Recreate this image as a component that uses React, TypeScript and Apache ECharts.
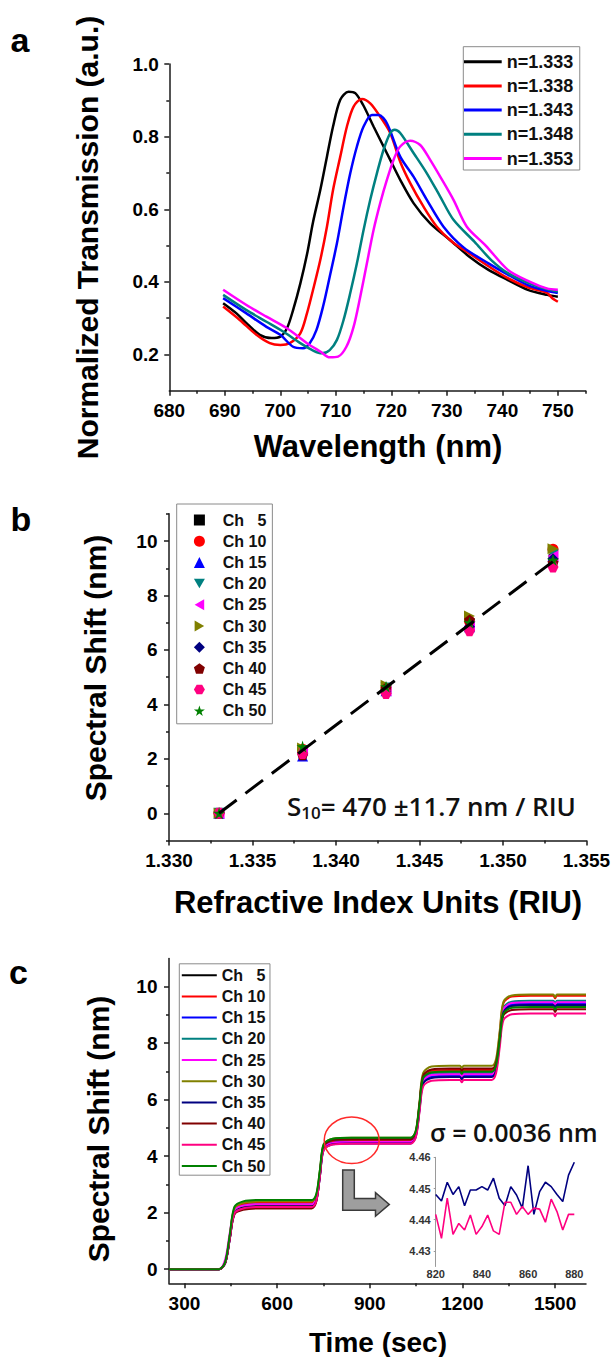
import { useEffect, useRef } from "react";
import * as echarts from "echarts";

// ---------------- Panel a : transmission spectra ----------------
const curveNames = ["n=1.333", "n=1.338", "n=1.343", "n=1.348", "n=1.353"];
const spec1333 = [[689.7,0.341],[692.1,0.313],[693.9,0.286],[696.3,0.254],[698.4,0.245],[700,0.249],[701.2,0.272],[702.3,0.322],[703.6,0.395],[704.8,0.475],[705.9,0.565],[707.2,0.653],[708.4,0.745],[709.5,0.828],[710.8,0.902],[712.3,0.924],[713.5,0.92],[714.9,0.888],[716.8,0.828],[718.6,0.773],[719.8,0.736],[721.6,0.681],[724,0.617],[727,0.561],[730.5,0.516],[734,0.47],[737.5,0.433],[741,0.405],[744.6,0.378],[748.1,0.364],[750,0.359]];
const spec1338 = [[689.7,0.332],[692.7,0.295],[695.7,0.254],[698.1,0.231],[700,0.226],[701.7,0.231],[703.6,0.258],[704.8,0.313],[705.9,0.378],[707.2,0.46],[708.4,0.552],[709.5,0.653],[710.8,0.745],[712,0.828],[713.2,0.883],[714.7,0.904],[716.2,0.892],[718,0.855],[719.8,0.81],[721.6,0.731],[723.4,0.672],[725.8,0.607],[728.2,0.552],[731,0.51],[734,0.479],[737.5,0.443],[741,0.41],[744.6,0.385],[748,0.37],[749,0.355],[750,0.345]];
const spec1343 = [[689.7,0.355],[693.9,0.313],[697.5,0.276],[700,0.254],[702.3,0.221],[704.1,0.217],[705.3,0.231],[706.5,0.267],[707.7,0.332],[708.9,0.414],[710.2,0.506],[711.4,0.607],[712.6,0.699],[713.8,0.773],[715,0.828],[716.5,0.86],[717.7,0.86],[719.2,0.837],[721.6,0.745],[724,0.69],[726.4,0.626],[729.4,0.552],[733,0.495],[737.5,0.451],[741,0.42],[744.6,0.391],[748,0.375],[750,0.369]];
const spec1348 = [[689.7,0.364],[693.9,0.322],[697.5,0.29],[700.5,0.263],[703.6,0.231],[706,0.21],[707.5,0.203],[708.9,0.212],[710.2,0.24],[711.4,0.295],[712.6,0.369],[713.8,0.451],[715,0.543],[716.2,0.626],[717.4,0.699],[718.6,0.764],[719.8,0.81],[720.6,0.819],[721.6,0.81],[724,0.755],[726.4,0.699],[728.8,0.635],[731.2,0.571],[735,0.51],[738,0.46],[741,0.424],[745,0.395],[748,0.38],[750,0.373]];
const spec1353 = [[689.7,0.378],[693.9,0.336],[697.5,0.304],[701.2,0.272],[704.8,0.231],[707.2,0.208],[708.9,0.192],[710.4,0.194],[711.9,0.221],[713.2,0.276],[714.4,0.359],[715.6,0.451],[716.8,0.543],[718,0.617],[719.2,0.681],[720.5,0.74],[721.6,0.773],[723.4,0.789],[725.2,0.777],[727,0.736],[728.8,0.69],[731.2,0.626],[733.6,0.552],[737,0.5],[741,0.433],[745,0.4],[748,0.382],[750,0.378]];
const aXMajor = [680, 690, 700, 710, 720, 730, 740, 750];
const aXMinor = [685, 695, 705, 715, 725, 735, 745, 755];
const aYMajor = [0.2, 0.4, 0.6, 0.8, 1.0];
const aYMinor = [0.3, 0.5, 0.7, 0.9];

// ---------------- Panel b : shift vs RIU ----------------
const channels = ["Ch   5", "Ch 10", "Ch 15", "Ch 20", "Ch 25", "Ch 30", "Ch 35", "Ch 40", "Ch 45", "Ch 50"];
const riu = [1.333, 1.338, 1.343, 1.348, 1.353];
const bCh5 = [0, 2.25, 4.6, 6.95, 9.35];
const bCh10 = [0, 2.35, 4.55, 7.05, 9.7];
const bCh15 = [0, 2.1, 4.5, 6.85, 9.45];
const bCh20 = [0, 2.3, 4.6, 6.95, 9.5];
const bCh25 = [0, 2.3, 4.5, 6.9, 9.45];
const bCh30 = [0, 2.4, 4.7, 7.25, 9.72];
const bCh35 = [0, 2.2, 4.45, 6.85, 9.35];
const bCh40 = [0, 2.15, 4.6, 7.1, 9.2];
const bCh45 = [0, 2.2, 4.4, 6.7, 9.05];
const bCh50 = [0, 2.45, 4.65, 7.0, 9.3];
const fitRiu = [1.333, 1.353];
const fitShift = [0, 9.25];
const bXMajor = [1.33, 1.335, 1.34, 1.345, 1.35, 1.355];
const bXMinor = [1.3325, 1.3375, 1.3425, 1.3475, 1.3525];
const bYMajor = [0, 2, 4, 6, 8, 10];
const bYMinor = [-1, 1, 3, 5, 7, 9, 11];

// ---------------- Panel c : real-time sensorgram ----------------
const timeSec = [250,412,432,447,462,490,540,605,712,727,739,751,780,840,1032,1049,1061,1073,1100,1160,1192,1198,1204,1295,1309,1321,1333,1360,1420,1494,1500,1506,1600];
const cCh5 = [0,0,0.23,1.13,2.03,2.2,2.25,2.25,2.25,2.48,3.4,4.32,4.52,4.55,4.55,4.79,5.75,6.71,6.92,6.95,6.95,6.87,6.95,6.95,7.19,8.15,9.11,9.32,9.35,9.35,9.25,9.35,9.35];
const cCh10 = [0,0,0.24,1.18,2.12,2.3,2.35,2.35,2.35,2.57,3.45,4.33,4.52,4.55,4.55,4.8,5.8,6.8,7.02,7.05,7.05,6.97,7.05,7.05,7.31,8.37,9.42,9.65,9.68,9.68,9.58,9.68,9.68];
const cCh15 = [0,0,0.22,1.1,1.98,2.15,2.2,2.2,2.2,2.43,3.35,4.27,4.47,4.5,4.5,4.74,5.68,6.62,6.82,6.85,6.85,6.77,6.85,6.85,7.11,8.13,9.15,9.37,9.4,9.4,9.3,9.4,9.4];
const cCh20 = [0,0,0.23,1.15,2.07,2.25,2.3,2.3,2.3,2.53,3.45,4.37,4.57,4.6,4.6,4.84,5.78,6.72,6.92,6.95,6.95,6.87,6.95,6.95,7.21,8.23,9.25,9.47,9.5,9.5,9.4,9.5,9.5];
const cCh25 = [0,0,0.35,1.3,2.1,2.25,2.3,2.3,2.3,2.52,3.4,4.28,4.47,4.5,4.5,4.74,5.7,6.66,6.87,6.9,6.9,6.82,6.9,6.9,7.16,8.18,9.2,9.42,9.45,9.45,9.35,9.45,9.45];
const cCh30 = [0,0,0.24,1.2,2.16,2.35,2.4,2.4,2.4,2.63,3.53,4.43,4.62,4.65,4.65,4.91,5.93,6.95,7.17,7.2,7.2,7.12,7.2,7.2,7.45,8.46,9.47,9.69,9.72,9.72,9.62,9.72,9.72];
const cCh35 = [0,0,0.22,1.1,1.98,2.15,2.2,2.2,2.2,2.43,3.33,4.23,4.42,4.45,4.45,4.69,5.63,6.57,6.77,6.8,6.8,6.72,6.8,6.8,7.06,8.08,9.1,9.32,9.35,9.35,9.25,9.35,9.35];
const cCh40 = [0,0,0.22,1.08,1.94,2.1,2.15,2.15,2.15,2.4,3.38,4.36,4.57,4.6,4.6,4.85,5.85,6.85,7.07,7.1,7.1,7.02,7.1,7.1,7.31,8.15,8.99,9.17,9.2,9.2,9.1,9.2,9.2];
const cCh45 = [0,0,0.22,1.1,1.98,2.15,2.2,2.2,2.2,2.42,3.32,4.22,4.41,4.44,4.44,4.67,5.57,6.47,6.67,6.7,6.7,6.62,6.7,6.7,6.94,7.88,8.82,9.02,9.05,9.05,8.95,9.05,9.05];
const cCh50 = [0,0,0.25,1.23,2.21,2.4,2.45,2.45,2.45,2.67,3.55,4.43,4.62,4.65,4.65,4.89,5.83,6.77,6.97,7.0,7.0,6.92,7.0,7.0,7.23,8.14,9.05,9.25,9.28,9.28,9.18,9.28,9.28];
const cXMajor = [300, 600, 900, 1200, 1500];
const cXMinor = [450, 750, 1050, 1350];
const cYMajor = [0, 2, 4, 6, 8, 10];
const cYMinor = [1, 3, 5, 7, 9];

// inset (zoom of plateau at 820-880 s)
const insetTime = [820,822.5,825,827.5,830,832.5,835,837.5,840,842.5,845,847.5,850,852.5,855,857.5,860,862.5,865,867.5,870,872.5,875,877.5,880];
const insetCh35 = [4.4481,4.446,4.452,4.4481,4.4506,4.4445,4.4495,4.4495,4.4506,4.4495,4.4533,4.4469,4.4445,4.4506,4.4479,4.4437,4.4573,4.4417,4.449,4.452,4.4506,4.4481,4.4458,4.4543,4.4584];
const insetCh45 = [4.4417,4.434,4.4469,4.4353,4.4388,4.4367,4.4415,4.4353,4.4378,4.4415,4.4364,4.4353,4.4456,4.4456,4.4417,4.4442,4.4417,4.4437,4.4434,4.4392,4.4466,4.4426,4.4367,4.4417,4.4417];
const insetYTicks = [4.43, 4.44, 4.45, 4.46];

// ---------------- styles ----------------
const FONT = '"Liberation Sans", Arial, Helvetica, sans-serif';
const FONT2 = '"Open Sans", "Liberation Sans", Arial, sans-serif';
const AX = "#1a1a1a";
const aColors = ["#000000", "#FF0000", "#0000FF", "#008080", "#FF00FF"];
const chColors = ["#000000", "#FF0000", "#0000FF", "#008080", "#FF00FF", "#808000", "#000080", "#800000", "#FF0080", "#008000"];
const chSymbols = [
  "rect",
  "circle",
  "triangle",
  "path://M0,0L10,0L5,8.66Z",
  "path://M8.66,0L8.66,10L0,5Z",
  "path://M0,0L8.66,5L0,10Z",
  "diamond",
  "path://M5,0L9.76,3.45L7.94,9.05L2.06,9.05L0.24,3.45Z",
  "path://M2.5,0.67L7.5,0.67L10,5L7.5,9.33L2.5,9.33L0,5Z",
  "path://M5,0L6.18,3.62L10,3.62L6.91,5.86L8.09,9.51L5,7.27L1.91,9.51L3.09,5.86L0,3.62L3.82,3.62Z",
];
const bSizes = [9, 11, 11, 11, 11, 11, 11, 11, 11, 12];

const near = (a: number, b: number) => Math.abs(a - b) < 1e-6;
const pick = (majors: number[], fmt: (v: number) => string) => (v: number) =>
  majors.some((m) => near(m, v)) ? fmt(v) : "";

// main axis: labels from an interval grid (formatter keeps the major values),
// ticks at the majors; a second, label-less axis carries the minor ticks.
function axisPair(dim: "x" | "y", gridIndex: number, min: number, max: number, step: number, majors: number[], minors: number[], fmt: (v: number) => string, margin: number) {
  const position = dim === "x" ? "bottom" : "left";
  const main = {
    type: "value", gridIndex, min, max, interval: step, position,
    axisLine: { show: true, onZero: false, lineStyle: { color: AX, width: 1.5 } },
    axisTick: { show: true, inside: false, length: 5, customValues: majors, lineStyle: { color: AX, width: 1.5 } },
    axisLabel: {
      show: true, interval: 0, formatter: pick(majors, fmt), margin, showMinLabel: true, showMaxLabel: true,
      color: "#000", fontSize: 19, fontWeight: "bold", fontFamily: FONT,
    },
    splitLine: { show: false },
  };
  const minor = {
    type: "value", gridIndex, min, max, position,
    axisLine: { show: false, onZero: false },
    axisTick: { show: true, inside: false, length: 3, customValues: minors, lineStyle: { color: AX, width: 1.5 } },
    axisLabel: { show: false },
    splitLine: { show: false },
  };
  return [main, minor];
}

function title(text: string, x: number, y: number, size: number, rotate = false) {
  return {
    type: "text", x, y, rotation: rotate ? Math.PI / 2 : 0,
    style: { text, fill: "#000", fontFamily: FONT, fontWeight: 700, fontSize: size, align: "center", verticalAlign: "middle" },
  };
}
function panelLabel(text: string, x: number, y: number) {
  return { type: "text", x, y, style: { text, fill: "#000", fontFamily: FONT, fontWeight: 700, fontSize: 34, align: "left", verticalAlign: "middle" } };
}

function optionA() {
  const curves = [spec1333, spec1338, spec1343, spec1348, spec1353];
  return {
    animation: false,
    grid: { left: 169.3, top: 64.1, width: 416.3, height: 326.6, outerBoundsMode: "none" },
    xAxis: axisPair("x", 0, 680, 755, 5, aXMajor, aXMinor, (v) => String(Math.round(v)), 10.5),
    yAxis: axisPair("y", 0, 0.1, 1.0, 0.1, aYMajor, aYMinor, (v) => v.toFixed(1), 10.5),
    legend: {
      show: true, orient: "vertical", left: 463.3, top: 46.7, data: curveNames, icon: "rect",
      itemWidth: 37.7, itemHeight: 3, itemGap: 6.2, padding: [6, 6.5, 2.5, 0.7],
      borderColor: "#8a8a8a", borderWidth: 1, backgroundColor: "#fff", selectedMode: false,
      itemStyle: { borderWidth: 0 },
      textStyle: { fontFamily: FONT, fontSize: 18, fontWeight: 700, color: "#111" },
    },
    series: curves.map((d, i) => ({
      type: "line", name: curveNames[i], data: d, xAxisIndex: 0, yAxisIndex: 0,
      symbol: "none", showSymbol: false, smooth: 0.3,
      lineStyle: { color: aColors[i], width: 2.5 }, itemStyle: { color: aColors[i] },
    })),
    graphic: {
      elements: [
        panelLabel("a", 10.5, 40),
        title("Normalized Transmission (a.u.)", 87.7, 237.5, 30, true),
        title("Wavelength (nm)", 378, 446, 31),
      ],
    },
  };
}

function optionB() {
  const vals = [bCh5, bCh10, bCh15, bCh20, bCh25, bCh30, bCh35, bCh40, bCh45, bCh50];
  const scatter = vals.map((arr, i) => ({
    type: "scatter", name: channels[i], xAxisIndex: 0, yAxisIndex: 0,
    data: riu.map((x, k) => [x, arr[k]]),
    symbol: chSymbols[i], symbolSize: bSizes[i],
    itemStyle: { color: chColors[i], opacity: 1 },
  }));
  const fit = {
    type: "line", name: "fit", xAxisIndex: 0, yAxisIndex: 0,
    data: fitRiu.map((x, k) => [x, fitShift[k]]),
    symbol: "none", showSymbol: false,
    lineStyle: { color: "#000", width: 3, type: [22, 11] }, z: 5,
  };
  return {
    animation: false,
    grid: { left: 169, top: 513.8, width: 417.4, height: 326.7, outerBoundsMode: "none" },
    xAxis: axisPair("x", 0, 1.33, 1.355, 0.005, bXMajor, bXMinor, (v) => v.toFixed(3), 10),
    yAxis: axisPair("y", 0, -1, 11, 1, bYMajor, bYMinor, (v) => String(Math.round(v)), 11.5),
    legend: {
      show: true, orient: "vertical", left: 176.7, top: 504, data: channels,
      itemWidth: 11, itemHeight: 11, itemGap: 5.2, padding: [8, 6, 5, 17.2],
      borderColor: "#8a8a8a", borderWidth: 1, backgroundColor: "#fff", selectedMode: false,
      itemStyle: { borderWidth: 0 },
      textStyle: { fontFamily: FONT, fontSize: 16, fontWeight: 700, color: "#111", padding: [0, 0, 0, 12.9] },
    },
    series: [...scatter, fit],
    graphic: {
      elements: [
        panelLabel("b", 10.5, 518.5),
        title("Spectral Shift (nm)", 95.5, 668, 30, true),
        title("Refractive Index Units (RIU)", 378, 902, 31),
        {
          type: "text", x: 287, y: 806,
          style: {
            text: "{m|S}{s|10}{m|= 470 ±11.7 nm / RIU}", align: "left", verticalAlign: "middle",
            rich: {
              m: { fontFamily: FONT2, fontWeight: 600, fontSize: 26, fill: "#111", lineHeight: 30, verticalAlign: "middle" },
              s: { fontFamily: FONT2, fontWeight: 600, fontSize: 17, fill: "#111", lineHeight: 14, verticalAlign: "bottom" },
            },
          },
        },
      ],
    },
  };
}

function optionC() {
  const vals = [cCh5, cCh10, cCh15, cCh20, cCh25, cCh30, cCh35, cCh40, cCh45, cCh50];
  const lines = vals.map((arr, i) => ({
    type: "line", name: channels[i], xAxisIndex: 0, yAxisIndex: 0,
    data: timeSec.map((t, k) => [t, arr[k]]),
    symbol: "none", showSymbol: false, smooth: 0.3,
    lineStyle: { color: chColors[i], width: 2 }, itemStyle: { color: chColors[i] },
  }));
  const insetLines = [insetCh35, insetCh45].map((arr, i) => ({
    type: "line", name: i === 0 ? "inset35" : "inset45", xAxisIndex: 2, yAxisIndex: 2,
    data: insetTime.map((t, k) => [t, arr[k]]),
    symbol: "none", showSymbol: false,
    lineStyle: { color: i === 0 ? "#000080" : "#FF0080", width: 1.6 },
  }));
  const mainX = axisPair("x", 0, 250, 1600, 50, cXMajor, cXMinor, (v) => String(Math.round(v)), 11);
  const mainY = axisPair("y", 0, -0.5, 11, 0.5, cYMajor, cYMinor, (v) => String(Math.round(v)), 11.5);
  const insetX = {
    type: "value", gridIndex: 1, min: 820, max: 880, interval: 20, position: "bottom",
    axisLine: { show: false, onZero: false }, axisTick: { show: false },
    axisLabel: { show: true, margin: 1.5, fontSize: 11, fontWeight: "bold", color: "#333", fontFamily: FONT },
    splitLine: { show: false },
  };
  const insetY = {
    type: "value", gridIndex: 1, min: 4.425, max: 4.46, interval: 0.005, position: "left",
    axisLine: { show: true, onZero: false, lineStyle: { color: "#9a9a9a", width: 1 } },
    axisTick: { show: true, inside: false, length: 2, customValues: insetYTicks, lineStyle: { color: "#9a9a9a", width: 1 } },
    axisLabel: { show: true, interval: 0, formatter: pick(insetYTicks, (v) => v.toFixed(2)), margin: 5, fontSize: 11, fontWeight: "bold", color: "#333", fontFamily: FONT },
    splitLine: { show: false },
  };
  return {
    animation: false,
    grid: [
      { left: 169, top: 958.4, width: 417, height: 324.9, outerBoundsMode: "none" },
      { left: 435.7, top: 1157.3, width: 138.6, height: 109.2, outerBoundsMode: "none" },
    ],
    xAxis: [...mainX, insetX],
    yAxis: [...mainY, insetY],
    legend: {
      show: true, orient: "vertical", left: 179.3, top: 963.8, data: channels, icon: "rect",
      itemWidth: 35, itemHeight: 2, itemGap: 5.2, padding: [3.4, 4.6, 1.2, 2.5],
      borderColor: "#8a8a8a", borderWidth: 1, backgroundColor: "#fff", selectedMode: false,
      itemStyle: { borderWidth: 0 },
      textStyle: { fontFamily: FONT, fontSize: 16, fontWeight: 700, color: "#111" },
    },
    series: [...lines, ...insetLines],
    graphic: {
      elements: [
        panelLabel("c", 9, 971.5),
        title("Spectral Shift (nm)", 98.2, 1129, 30, true),
        title("Time (sec)", 378, 1342.5, 28),
        {
          type: "text", x: 430, y: 1131.7,
          style: { text: "σ = 0.0036 nm", fill: "#111", fontFamily: FONT2, fontWeight: 600, fontSize: 25, align: "left", verticalAlign: "middle" },
        },
        {
          type: "ellipse", shape: { cx: 351.7, cy: 1140.3, rx: 27.5, ry: 23.3 },
          style: { fill: "none", stroke: "#FF2A2A", lineWidth: 1.5 }, z: 10,
        },
        {
          type: "polygon",
          shape: { points: [[342.7, 1170], [354.3, 1170], [354.3, 1198.5], [375.5, 1198.5], [375.5, 1192.7], [389.3, 1204.4], [375.5, 1216.2], [375.5, 1210.2], [342.7, 1210.2]] },
          style: { fill: "#9E9E9E", stroke: "#3a3a3a", lineWidth: 1.5 }, z: 10,
        },
      ],
    },
  };
}

export default function App() {
  const refA = useRef<HTMLDivElement>(null);
  const refB = useRef<HTMLDivElement>(null);
  const refC = useRef<HTMLDivElement>(null);
  useEffect(() => {
    const pairs: [HTMLDivElement | null, any][] = [
      [refA.current, optionA()],
      [refB.current, optionB()],
      [refC.current, optionC()],
    ];
    const charts = pairs.map(([el, opt]) => {
      const c = echarts.init(el as HTMLDivElement, null, { renderer: "svg" });
      c.setOption(opt);
      return c;
    });
    return () => charts.forEach((c) => c.dispose());
  }, []);
  const layer: React.CSSProperties = { position: "absolute", left: 0, top: 0, width: 613, height: 1357 };
  return (
    <div style={{ position: "absolute", left: 0, top: 0, width: 613, height: 1357, background: "#fff", overflow: "hidden" }}>
      <div ref={refA} style={layer} />
      <div ref={refB} style={layer} />
      <div ref={refC} style={layer} />
    </div>
  );
}
